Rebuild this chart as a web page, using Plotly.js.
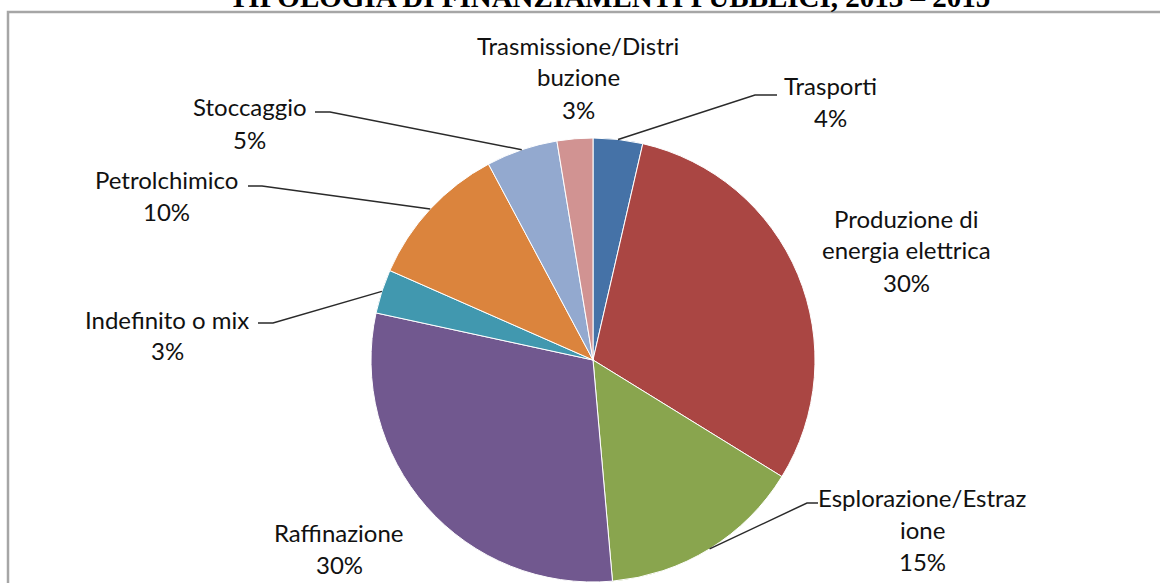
<!DOCTYPE html>
<html>
<head>
<meta charset="utf-8">
<script src="https://cdn.plot.ly/plotly-3.0.1.min.js"></script>
<style>html,body{margin:0;padding:0;background:#fff;}#chart{width:1160px;height:583px;}</style>
</head>
<body>
<div id="chart"></div>
<script>
// ---- data ----
var categories = ['Trasporti', 'Produzione di energia elettrica', 'Esplorazione/Estrazione', 'Raffinazione', 'Indefinito o mix', 'Petrolchimico', 'Stoccaggio', 'Trasmissione/Distribuzione'];
var values = [3.6, 30.2, 14.8, 29.8, 3.2, 10.6, 5.2, 2.6];
var percentLabels = ['4%', '30%', '15%', '30%', '3%', '10%', '5%', '3%'];
var labelLines = [['Trasporti'], ['Produzione di', 'energia elettrica'], ['Esplorazione/Estraz', 'ione'], ['Raffinazione'], ['Indefinito o mix'], ['Petrolchimico'], ['Stoccaggio'], ['Trasmissione/Distri', 'buzione']];
var colors = ['#4572A7', '#AA4643', '#89A54E', '#71588F', '#4198AF', '#DB843D', '#93A9CF', '#D19392'];
var titleText = 'TIPOLOGIA DI FINANZIAMENTI PUBBLICI, 2013 – 2015';

// ---- layout constants (pixels) ----
var W = 1160, H = 583;
var cx = 593, cy = 360, R = 222;
var lineGap = 32;
// label placement: [centerX, firstLineCenterY]
var labelPos = [[830, 85], [906, 218], [922, 497], [339, 532], [167, 319], [166, 179], [250, 107], [578, 45]];
// leader line label-side points: [[endX, endY], [elbowX, elbowY]] or null
var leaders = [[[777, 95], [755, 95]], null, [[818, 503], [807, 503]], null, [[258, 323], [273, 323]], [[248, 186], [262, 186]], [[315, 112], [330, 112]], null];

function px(x) { return x / W; }
function py(y) { return 1 - y / H; }

var font = 'Lato, "Open Sans", sans-serif';
var annotations = [];
var shapes = [];

// title (partially cut at top like the reference)
annotations.push({
  text: '<b>' + titleText + '</b>', xref: 'paper', yref: 'paper',
  x: px(609), y: py(15), xanchor: 'center', yanchor: 'bottom', showarrow: false,
  font: {family: '"Liberation Serif", "Times New Roman", serif', size: 29, color: '#000'}
});

var total = values.reduce(function (a, b) { return a + b; }, 0);
var cum = 0;
for (var i = 0; i < categories.length; i++) {
  var mid = (cum + values[i] / 2) / total * 2 * Math.PI;
  cum += values[i];
  var lines = labelLines[i].concat([percentLabels[i]]);
  for (var k = 0; k < lines.length; k++) {
    annotations.push({
      text: lines[k], xref: 'paper', yref: 'paper',
      x: px(labelPos[i][0]), y: py(labelPos[i][1] + k * lineGap),
      xanchor: 'center', yanchor: 'middle', showarrow: false,
      font: {family: font, size: 24, color: '#111111'}
    });
  }
  if (leaders[i]) {
    var ax = cx + R * Math.sin(mid), ay = cy - R * Math.cos(mid);
    var p0 = leaders[i][0], p1 = leaders[i][1];
    shapes.push({
      type: 'path', xref: 'paper', yref: 'paper',
      path: 'M ' + px(p0[0]) + ' ' + py(p0[1]) + ' L ' + px(p1[0]) + ' ' + py(p1[1]) + ' L ' + px(ax) + ' ' + py(ay),
      line: {color: '#2a2a2a', width: 1.5}
    });
  }
}

// chart border (extends beyond right/bottom edges as in reference)
shapes.push({
  type: 'rect', xref: 'paper', yref: 'paper', layer: 'below',
  x0: px(8), x1: px(1175), y0: py(600), y1: py(12),
  line: {color: '#a6a6a6', width: 2.5}, fillcolor: 'rgba(0,0,0,0)'
});

var trace = {
  type: 'pie', labels: categories, values: values, sort: false,
  direction: 'clockwise', rotation: 0, textinfo: 'none', hoverinfo: 'label+percent',
  marker: {colors: colors, line: {color: '#ffffff', width: 1}},
  domain: {x: [px(cx - R), px(cx + R)], y: [py(cy + R), py(cy - R)]},
  showlegend: false
};

var layout = {
  width: W, height: H, margin: {l: 0, r: 0, t: 0, b: 0},
  paper_bgcolor: '#ffffff', showlegend: false,
  annotations: annotations, shapes: shapes
};

Plotly.newPlot('chart', [trace], layout, {displayModeBar: false, staticPlot: true});
</script>
</body>
</html>
